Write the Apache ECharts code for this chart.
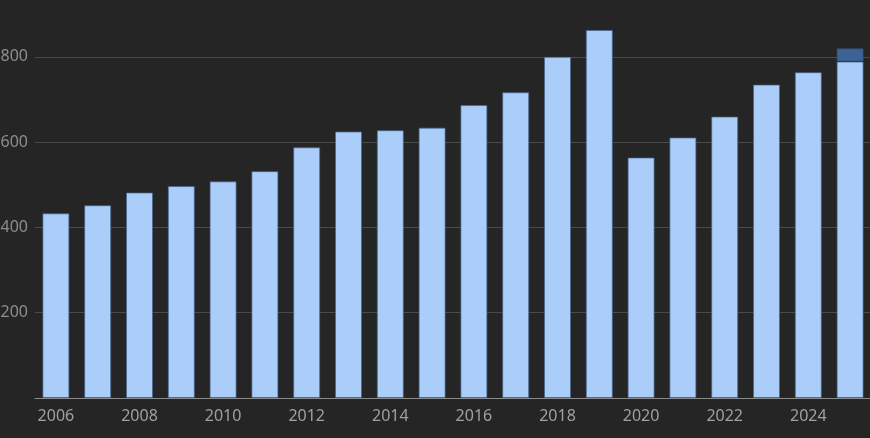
<!DOCTYPE html>
<html><head><meta charset="utf-8">
<script src="https://cdn.jsdelivr.net/npm/echarts@6/dist/echarts.min.js"></script>
<style>html,body{margin:0;padding:0;background:#252525;}#c{width:870px;height:438px;}</style>
</head><body><div id="c"></div>
<script>
const years = ['2006','2007','2008','2009','2010','2011','2012','2013','2014','2015','2016','2017','2018','2019','2020','2021','2022','2023','2024','2025'];
const actual = [433,452,482,497,508,532,588,625,628,634,687,717,800,863,564,611,660,735,764,789];
const projected = [null,null,null,null,null,null,null,null,null,null,null,null,null,null,null,null,null,null,null,31];
const yMin = 0, yMax = 900, yStep = 200;

const chart = echarts.init(document.getElementById('c'));
chart.setOption({
  backgroundColor:'#252525',
  animation:false,
  grid:{left:35,right:-1,top:14.2,bottom:40,containLabel:false,outerBoundsMode:'none'},
  xAxis:{type:'category',data:years,
    axisLine:{lineStyle:{color:'#8a8a8a',width:1}},
    axisTick:{show:false},
    axisLabel:{interval:1,color:'#a0a0a0',fontSize:16,fontFamily:'Noto Sans',margin:10}},
  yAxis:{type:'value',min:yMin,max:yMax,interval:yStep,
    axisLine:{show:false},axisTick:{show:false},
    axisLabel:{color:'#8e8e8e',fontSize:16,fontFamily:'Noto Sans',margin:7,showMaxLabel:false,
      formatter:v=>(v===0||v%200!==0)?'':String(v)},
    splitLine:{showMaxLine:false,lineStyle:{color:'#4a4a4a',width:1}}},
  series:[
    {type:'bar',stack:'a',data:actual,barWidth:27,
      itemStyle:{color:'#abcdfa',borderColor:'rgba(70,100,140,0.7)',borderWidth:1}},
    {type:'bar',stack:'a',data:projected,barWidth:27,
      itemStyle:{color:'#3b6393',borderColor:'rgba(50,80,120,0.7)',borderWidth:1}}
  ]
});
</script></body></html>
